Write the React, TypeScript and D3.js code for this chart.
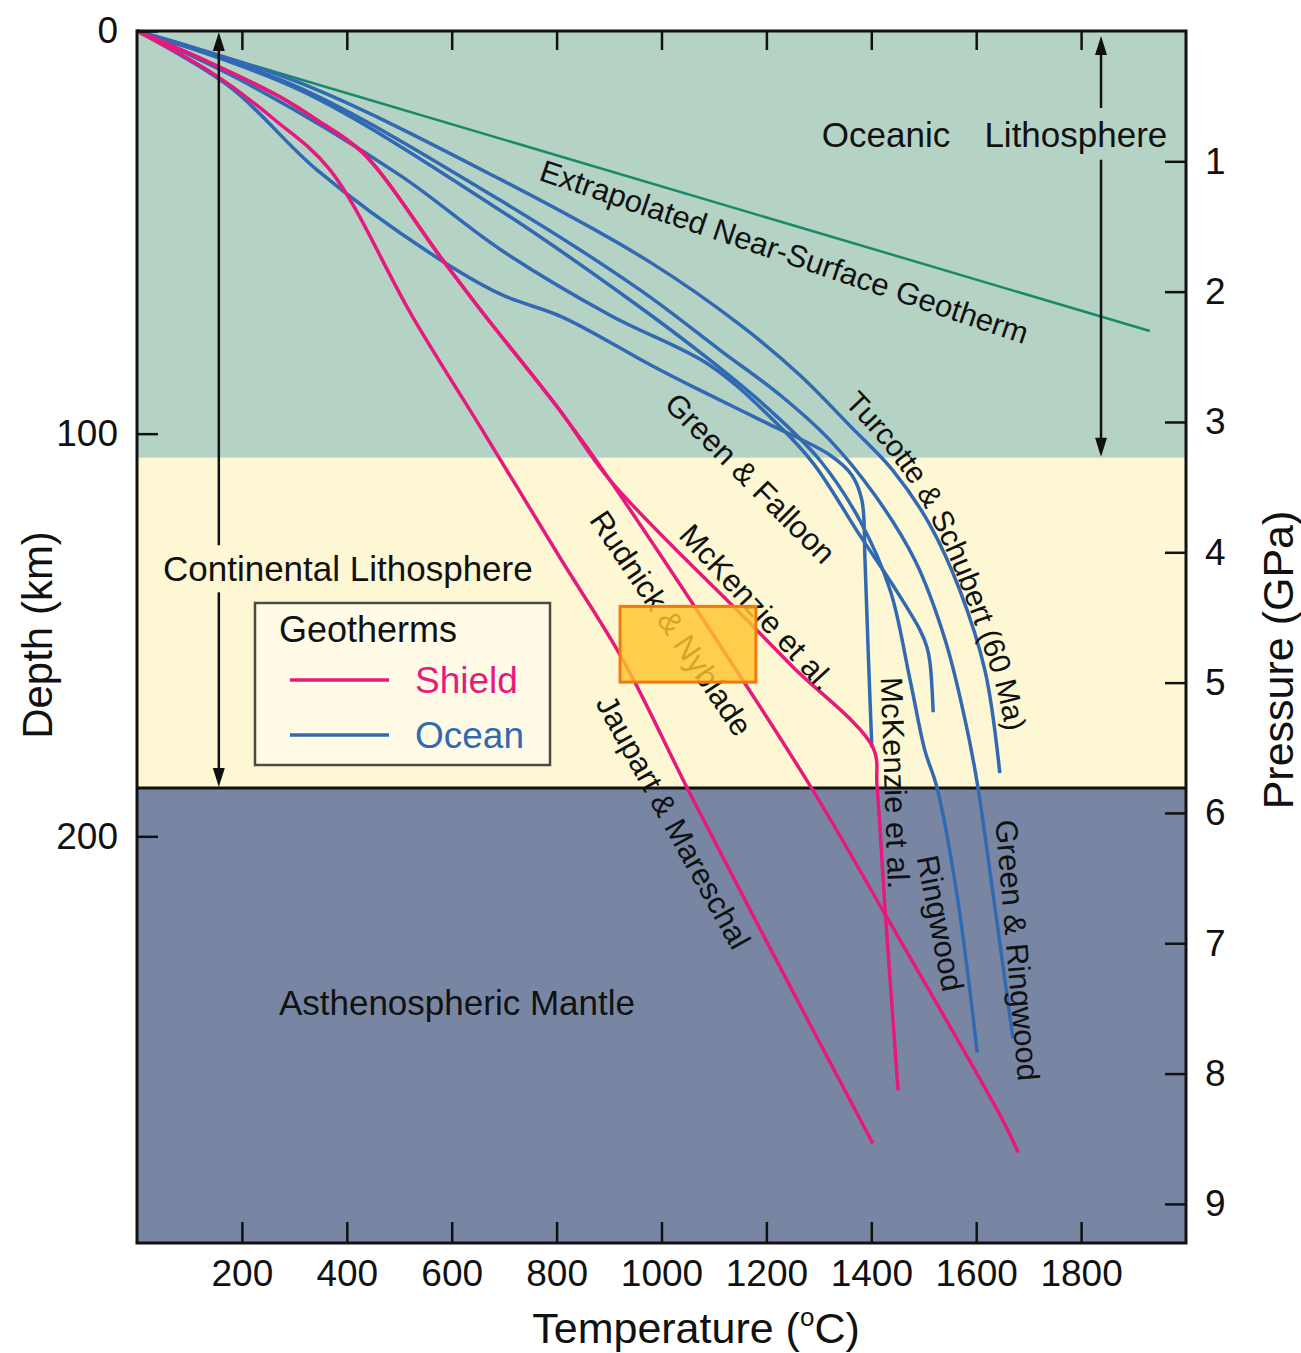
import React, { useEffect, useRef } from 'react';
import * as d3 from 'd3';

// Geotherms: temperature (°C) and depth (km), one pair per curve

// extrapolated near-surface geotherm (green)
const nearSurfaceT = [0, 1931];
const nearSurfaceD = [0, 74.5];

// ocean geotherms (blue)
const turcotteT = [0, 311, 692, 978, 1150, 1264, 1359, 1441, 1512, 1569, 1617, 1645];
const turcotteD = [0, 12.9, 36.8, 57.4, 73.0, 85.5, 98.0, 109.1, 122.7, 139.0, 159.0, 184.3];

const greenRingwoodT = [0, 311, 692, 959, 1112, 1226, 1321, 1407, 1483, 1541, 1579, 1602, 1632, 1670];
const greenRingwoodD = [0, 14.2, 42.0, 64.3, 79.3, 90.4, 101.6, 115.3, 131.4, 151.3, 171.2, 186.8, 214.2, 250.2];

const ringwoodT = [0, 311, 692, 940, 1092, 1207, 1302, 1378, 1436, 1474, 1502, 1525, 1563, 1602];
const ringwoodD = [0, 14.7, 44.5, 66.8, 81.7, 94.2, 106.6, 121.5, 138.9, 161.2, 178.6, 187.8, 214.2, 253.7];

const greenFalloonT = [0, 215, 501, 692, 902, 1092, 1213, 1289, 1378, 1441, 1493, 1506, 1512, 1518];
const greenFalloonD = [0, 13.4, 35.8, 54.2, 70.6, 83.0, 96.6, 107.3, 125.2, 137.6, 148.8, 153.0, 157.0, 169.2];

const mckenzieOceanT = [0, 177, 343, 559, 692, 812, 980, 1073, 1201, 1321, 1363, 1382, 1388, 1394, 1401];
const mckenzieOceanD = [0, 13.9, 34.5, 55.2, 65.3, 71.1, 83.0, 89.2, 97.4, 105.3, 110.3, 116.5, 131.4, 153.8, 177.9];

// shield geotherms (pink)
const jaupartT = [0, 149, 263, 368, 526, 663, 806, 927, 1054, 1226, 1403];
const jaupartD = [0, 10.9, 22.1, 34.5, 71.1, 100.1, 130.7, 156.3, 189.3, 232.5, 276.3];

const rudnickT = [0, 120, 273, 343, 431, 583, 660, 806, 902, 1277, 1422, 1651, 1680];
const rudnickD = [0, 6.7, 16.4, 22.1, 30.3, 56.9, 70.1, 94.2, 111.6, 186.1, 218.4, 270.6, 278.5];

const mckenzieShieldT = [0, 120, 273, 343, 431, 583, 660, 806, 902, 1163, 1251, 1403, 1411, 1426, 1451];
const mckenzieShieldD = [0, 6.7, 16.4, 22.1, 30.3, 56.9, 70.1, 94.2, 111.6, 146.3, 158.0, 177.9, 187.8, 217.6, 263.1];

// axes
const tempTicks = [200, 400, 600, 800, 1000, 1200, 1400, 1600, 1800];
const depthTicks = [0, 100, 200];
const pressureTicks = [1, 2, 3, 4, 5, 6, 7, 8, 9];

// layer bases (km)
const oceanicBase = 106;
const continentalBase = 188;
const maxDepth = 301;
const maxTemp = 2000;

const BLUE = '#3169b3';
const PINK = '#e8197c';
const FONT = '"Liberation Sans", Arial, Helvetica, sans-serif';

const App = () => {
  const ref = useRef<SVGSVGElement>(null);

  useEffect(() => {
    const svg = d3.select(ref.current);
    svg.selectAll('*').remove();

    const x = d3.scaleLinear().domain([0, maxTemp]).range([137, 1186]);
    const y = d3.scaleLinear().domain([0, maxDepth]).range([31, 1243]);
    const yP = d3.scaleLinear().domain([0, 9.3]).range([31, 1243]);

    // layers
    const zones = [
      { top: 0, bottom: oceanicBase, fill: '#b5d3c5' },
      { top: oceanicBase, bottom: continentalBase, fill: '#fdf8d3' },
      { top: continentalBase, bottom: maxDepth, fill: '#7886a3' },
    ];
    svg.selectAll('.zone')
      .data(zones)
      .enter().append('rect')
      .attr('x', x(0))
      .attr('y', d => y(d.top))
      .attr('width', x(maxTemp) - x(0))
      .attr('height', d => y(d.bottom) - y(d.top))
      .attr('fill', d => d.fill);

    svg.append('line')
      .attr('x1', x(0)).attr('x2', x(maxTemp))
      .attr('y1', y(continentalBase)).attr('y2', y(continentalBase))
      .attr('stroke', '#111').attr('stroke-width', 3);

    const pts = (t: number[], d: number[]) => t.map((v, i) => [v, d[i]] as [number, number]);
    const line = d3.line<[number, number]>()
      .x(p => x(p[0]))
      .y(p => y(p[1]))
      .curve(d3.curveCatmullRom.alpha(0.5));

    svg.append('path')
      .attr('d', line(pts(nearSurfaceT, nearSurfaceD)))
      .attr('fill', 'none').attr('stroke', '#178a69').attr('stroke-width', 2.5);

    const ocean = [
      pts(turcotteT, turcotteD),
      pts(greenRingwoodT, greenRingwoodD),
      pts(ringwoodT, ringwoodD),
      pts(greenFalloonT, greenFalloonD),
      pts(mckenzieOceanT, mckenzieOceanD),
    ];
    const shield = [
      pts(jaupartT, jaupartD),
      pts(rudnickT, rudnickD),
      pts(mckenzieShieldT, mckenzieShieldD),
    ];

    svg.selectAll('.ocean')
      .data(ocean)
      .enter().append('path')
      .attr('d', d => line(d))
      .attr('fill', 'none').attr('stroke', BLUE).attr('stroke-width', 3.5)
      .attr('stroke-linejoin', 'round');

    svg.selectAll('.shield')
      .data(shield)
      .enter().append('path')
      .attr('d', d => line(d))
      .attr('fill', 'none').attr('stroke', PINK).attr('stroke-width', 3.5)
      .attr('stroke-linejoin', 'round');

    // curve labels (position in T / depth, angle in degrees)
    const labels = [
      { text: 'Extrapolated Near-Surface Geotherm', t: 1234, d: 54.9, a: 18.7 },
      { text: 'Green & Falloon', t: 1169, d: 111.1, a: 45 },
      { text: 'McKenzie et al.', t: 1182, d: 143.1, a: 47.5 },
      { text: 'Rudnick & Nyblade', t: 1018, d: 147.1, a: 56 },
      { text: 'Jaupart & Mareschal', t: 1022, d: 196.5, a: 61 },
      { text: 'McKenzie et al.', t: 1445, d: 186.8, a: 88 },
      { text: 'Ringwood', t: 1531, d: 221.6, a: 79 },
      { text: 'Green & Ringwood', t: 1678, d: 228.3, a: 85 },
    ];
    svg.selectAll('.clabel')
      .data(labels)
      .enter().append('text')
      .attr('x', d => x(d.t)).attr('y', d => y(d.d))
      .attr('transform', d => `rotate(${d.a},${x(d.t)},${y(d.d)})`)
      .attr('text-anchor', 'middle').attr('dominant-baseline', 'central')
      .attr('font-family', FONT).attr('font-size', 31).attr('fill', '#111')
      .text(d => d.text);

    // Turcotte & Schubert label follows its curve
    const tsPath: [number, number][] = [[1363, 90.7], [1441, 101.9], [1508, 114.2], [1565, 129.0], [1617, 146.3], [1661, 163.7], [1680, 176.1], [1683, 181.1]];
    svg.append('defs').append('path')
      .attr('id', 'tsPath')
      .attr('d', line(tsPath));
    svg.append('text')
      .attr('font-family', FONT).attr('font-size', 30).attr('fill', '#111')
      .attr('dominant-baseline', 'central')
      .append('textPath')
      .attr('href', '#tsPath')
      .text('Turcotte & Schubert (60 Ma)');

    // region labels
    const regionLabels = [
      { text: 'Oceanic', t: 1428, d: 25.6 },
      { text: 'Lithosphere', t: 1790, d: 25.6 },
      { text: 'Continental Lithosphere', t: 402, d: 133.4 },
      { text: 'Asthenospheric Mantle', t: 610, d: 241.2 },
    ];
    svg.selectAll('.rlabel')
      .data(regionLabels)
      .enter().append('text')
      .attr('x', d => x(d.t)).attr('y', d => y(d.d))
      .attr('text-anchor', 'middle').attr('dominant-baseline', 'central')
      .attr('font-family', FONT).attr('font-size', 35).attr('fill', '#111')
      .text(d => d.text);

    // thickness arrows
    const arrow = (t: number, d0: number, d1: number, g0: number, g1: number) => {
      const g = svg.append('g');
      g.append('line').attr('x1', x(t)).attr('x2', x(t)).attr('y1', y(d0) + 14).attr('y2', y(g0))
        .attr('stroke', '#111').attr('stroke-width', 2.5);
      g.append('line').attr('x1', x(t)).attr('x2', x(t)).attr('y1', y(g1)).attr('y2', y(d1) - 14)
        .attr('stroke', '#111').attr('stroke-width', 2.5);
      const cx = x(t);
      g.append('path').attr('d', `M${cx},${y(d0) + 1}L${cx - 6},${y(d0) + 20}L${cx + 6},${y(d0) + 20}Z`).attr('fill', '#111');
      g.append('path').attr('d', `M${cx},${y(d1) - 1}L${cx - 6},${y(d1) - 20}L${cx + 6},${y(d1) - 20}Z`).attr('fill', '#111');
    };
    arrow(156, 0, continentalBase, 127.7, 139.4);
    arrow(1838, 1, oceanicBase, 19.1, 32);

    // frame
    svg.append('rect')
      .attr('x', x(0)).attr('y', y(0))
      .attr('width', x(maxTemp) - x(0)).attr('height', y(maxDepth) - y(0))
      .attr('fill', 'none').attr('stroke', '#111').attr('stroke-width', 3);

    // axes
    const styleAxis = (g: d3.Selection<SVGGElement, unknown, null, undefined>) => {
      g.select('.domain').remove();
      g.selectAll('.tick line').attr('stroke', '#111').attr('stroke-width', 2.5);
      g.selectAll('.tick text').attr('font-family', FONT).attr('font-size', 37).attr('fill', '#111');
    };

    svg.append('g')
      .attr('transform', `translate(0,${y(maxDepth)})`)
      .call(d3.axisBottom(x).tickValues(tempTicks).tickSizeInner(-21).tickSizeOuter(0).tickPadding(17).tickFormat(d3.format('d')))
      .call(styleAxis);

    svg.append('g')
      .attr('transform', `translate(0,${y(0)})`)
      .call(d3.axisBottom(x).tickValues(tempTicks).tickSizeInner(19).tickSizeOuter(0).tickFormat(() => ''))
      .call(styleAxis);

    svg.append('g')
      .attr('transform', `translate(${x(0)},0)`)
      .call(d3.axisLeft(y).tickValues(depthTicks).tickSizeInner(-21).tickSizeOuter(0).tickPadding(19))
      .call(styleAxis);

    svg.append('g')
      .attr('transform', `translate(${x(maxTemp)},0)`)
      .call(d3.axisRight(yP).tickValues(pressureTicks).tickSizeInner(-21).tickSizeOuter(0).tickPadding(19))
      .call(styleAxis);

    // axis titles
    const tt = svg.append('text')
      .attr('x', 696).attr('y', 1343)
      .attr('text-anchor', 'middle')
      .attr('font-family', FONT).attr('font-size', 43).attr('fill', '#111');
    tt.append('tspan').text('Temperature (');
    tt.append('tspan').attr('font-size', 26).attr('dy', -17).text('o');
    tt.append('tspan').attr('dy', 17).text('C)');

    svg.append('text')
      .attr('transform', 'translate(37,635) rotate(-90)')
      .attr('text-anchor', 'middle').attr('dominant-baseline', 'central')
      .attr('font-family', FONT).attr('font-size', 42).attr('fill', '#111')
      .text('Depth (km)');

    svg.append('text')
      .attr('transform', 'translate(1278,660) rotate(-90)')
      .attr('text-anchor', 'middle').attr('dominant-baseline', 'central')
      .attr('font-family', FONT).attr('font-size', 43).attr('fill', '#111')
      .text('Pressure (GPa)');

    // legend
    const lg = svg.append('g').attr('transform', 'translate(255,603)');
    lg.append('rect').attr('width', 295).attr('height', 162)
      .attr('fill', '#fffbe6').attr('stroke', '#4d4b40').attr('stroke-width', 2.5);
    lg.append('text').attr('x', 24).attr('y', 39)
      .attr('font-family', FONT).attr('font-size', 36).attr('fill', '#111').text('Geotherms');
    const items = [{ name: 'Shield', color: PINK }, { name: 'Ocean', color: BLUE }];
    items.forEach((it, i) => {
      lg.append('line').attr('x1', 35).attr('x2', 134)
        .attr('y1', 77 + i * 55).attr('y2', 77 + i * 55)
        .attr('stroke', it.color).attr('stroke-width', 3.5);
      lg.append('text').attr('x', 160).attr('y', 90 + i * 55)
        .attr('font-family', FONT).attr('font-size', 37).attr('fill', it.color).text(it.name);
    });

    // highlight box
    svg.append('rect')
      .attr('x', x(921)).attr('y', y(142.9))
      .attr('width', x(1180) - x(921)).attr('height', y(161.7) - y(142.9))
      .attr('fill', '#ffc52e').attr('fill-opacity', 0.82)
      .attr('stroke', '#f07a0a').attr('stroke-width', 3);
  }, []);

  return (
    <svg
      ref={ref}
      width={1301}
      height={1353}
      style={{ position: 'absolute', left: 0, top: 0, background: '#fff' }}
    />
  );
};

export default App;
